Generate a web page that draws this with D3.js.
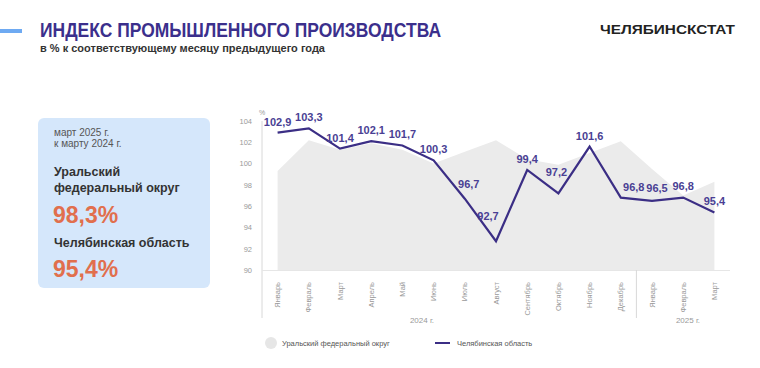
<!DOCTYPE html>
<html><head><meta charset="utf-8">
<script src="https://cdn.jsdelivr.net/npm/d3@7/dist/d3.min.js"></script>
<style>
html,body{margin:0;padding:0;background:#fff;}
svg{display:block;font-family:"Liberation Sans",Arial,sans-serif;}
</style></head>
<body>
<svg id="c" width="760" height="368"></svg>
<script>
const months = ["Январь","Февраль","Март","Апрель","Май","Июнь","Июль","Август","Сентябрь","Октябрь","Ноябрь","Декабрь","Январь","Февраль","Март"];
const years = ["2024 г.","2025 г."];
const ufoValues = [99.3,102.2,101.3,101.9,101.3,100.0,101.1,102.2,100.4,99.9,101.0,102.1,99.5,97.0,98.3];
const chelValues = [102.9,103.3,101.4,102.1,101.7,100.3,96.7,92.7,99.4,97.2,101.6,96.8,96.5,96.8,95.4];
const yTicks = [90,92,94,96,98,100,102,104];
const seriesNames = ["Уральский федеральный округ","Челябинская область"];

const svg = d3.select("#c");
const fmt = v => d3.format(".1f")(v).replace(".", ",");

// header
svg.append("rect").attr("x",0).attr("y",29).attr("width",22).attr("height",4).attr("fill","#6eaaf2");
svg.append("text").attr("x",40).attr("y",37).attr("font-size",20).attr("font-weight","bold")
  .attr("fill","#3b2f8c").attr("textLength",401).attr("lengthAdjust","spacingAndGlyphs")
  .text("ИНДЕКС ПРОМЫШЛЕННОГО ПРОИЗВОДСТВА");
svg.append("text").attr("x",40).attr("y",52).attr("font-size",10.5).attr("font-weight","bold")
  .attr("fill","#333").attr("textLength",285).attr("lengthAdjust","spacingAndGlyphs")
  .text("в % к соответствующему месяцу предыдущего года");
svg.append("text").attr("x",600).attr("y",34).attr("font-size",12.5).attr("font-weight","bold")
  .attr("fill","#222").attr("textLength",135).attr("lengthAdjust","spacingAndGlyphs")
  .text("ЧЕЛЯБИНСКСТАТ");

// info box
svg.append("rect").attr("x",38).attr("y",118).attr("width",172).attr("height",170).attr("rx",6)
  .attr("fill","#d5e7fb");
const info = svg.append("g").attr("fill","#333");
info.append("text").attr("x",54).attr("y",136).attr("font-size",10).attr("fill","#555").text("март 2025 г.");
info.append("text").attr("x",54).attr("y",147).attr("font-size",10).attr("fill","#555").text("к марту 2024 г.");
info.append("text").attr("x",54).attr("y",176).attr("font-size",12.5).attr("font-weight","bold").text("Уральский");
info.append("text").attr("x",54).attr("y",192).attr("font-size",12.5).attr("font-weight","bold").text("федеральный округ");
info.append("text").attr("x",53).attr("y",223).attr("font-size",23).attr("font-weight","bold").attr("fill","#e16f4d").text(fmt(ufoValues[14])+"%");
info.append("text").attr("x",54).attr("y",247).attr("font-size",12.5).attr("font-weight","bold").text("Челябинская область");
info.append("text").attr("x",53).attr("y",277).attr("font-size",23).attr("font-weight","bold").attr("fill","#e16f4d").text(fmt(chelValues[14])+"%");

// scales
const x = d3.scaleBand().domain(d3.range(months.length)).range([262,730]).padding(0);
const cx = i => x(i) + x.bandwidth()/2;
const y = d3.scaleLinear().domain([90,104]).range([270,121]);

// area
const area = d3.area().x((d,i)=>cx(i)).y0(y(90)).y1(d=>y(d));
svg.append("path").datum(ufoValues).attr("d",area).attr("fill","#ebebeb");

// axes lines
svg.append("line").attr("x1",262).attr("x2",262).attr("y1",121).attr("y2",318).attr("stroke","#d8d8d8");
svg.append("line").attr("x1",262).attr("x2",730).attr("y1",270.5).attr("y2",270.5).attr("stroke","#e6e6e6");
svg.append("line").attr("x1",x(12)).attr("x2",x(12)).attr("y1",270).attr("y2",318).attr("stroke","#d8d8d8");

// y axis
const ya = svg.append("g").attr("transform","translate(252,0)")
  .call(d3.axisLeft(y).tickValues(yTicks).tickSize(0).tickPadding(0));
ya.select(".domain").remove();
ya.selectAll("text").attr("font-size",7.5).attr("fill","#999").attr("font-family","Liberation Sans, Arial, sans-serif");
svg.append("text").attr("x",262).attr("y",115).attr("text-anchor","middle").attr("font-size",7).attr("fill","#999").text("%");

// x axis labels
const xa = svg.append("g").attr("transform","translate(0,282)")
  .call(d3.axisBottom(x).tickSize(0).tickFormat(i=>months[i]));
xa.select(".domain").remove();
xa.selectAll("text").attr("font-size",7.5).attr("fill","#999").attr("font-family","Liberation Sans, Arial, sans-serif")
  .attr("transform","rotate(-90)").attr("text-anchor","end").attr("x",0).attr("y",0).attr("dy","0.35em");

svg.append("text").attr("x",422).attr("y",323).attr("text-anchor","middle").attr("font-size",8).attr("fill","#999").text(years[0]);
svg.append("text").attr("x",688).attr("y",323).attr("text-anchor","middle").attr("font-size",8).attr("fill","#999").text(years[1]);

// line
const line = d3.line().x((d,i)=>cx(i)).y(d=>y(d));
svg.append("path").datum(chelValues).attr("d",line).attr("fill","none")
  .attr("stroke","#3b2e85").attr("stroke-width",2.2).attr("stroke-linejoin","miter");

// labels
const off = {6:[4,-11],7:[-8,-21],9:[-2,-17],11:[13,-7],12:[5,-9],13:[0,-8],14:[0,-8]};
svg.append("g").selectAll("text").data(chelValues).join("text")
  .attr("x",(d,i)=>cx(i)+(off[i]?off[i][0]:0))
  .attr("y",(d,i)=>y(d)+(off[i]?off[i][1]:-7))
  .attr("text-anchor","middle").attr("font-size",11).attr("font-weight","bold").attr("fill","#4a3f94")
  .text(d=>fmt(d));

// legend
svg.append("circle").attr("cx",271).attr("cy",343).attr("r",6).attr("fill","#e6e6e6");
svg.append("text").attr("x",282).attr("y",346).attr("font-size",7.5).attr("fill","#555").text(seriesNames[0]);
svg.append("line").attr("x1",435).attr("x2",450).attr("y1",343).attr("y2",343).attr("stroke","#3b2e85").attr("stroke-width",2);
svg.append("text").attr("x",457).attr("y",346).attr("font-size",7.5).attr("fill","#555").text(seriesNames[1]);
</script>
</body></html>
